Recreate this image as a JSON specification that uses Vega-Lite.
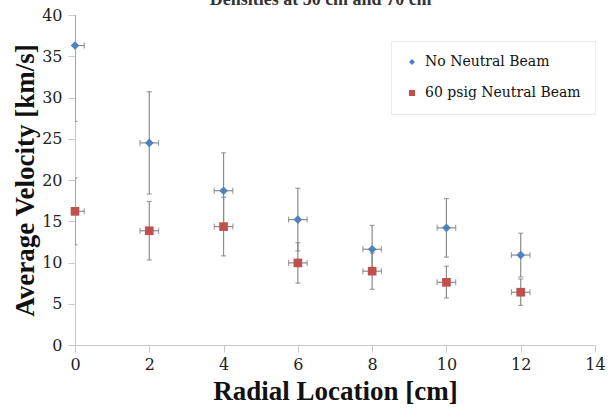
{
  "$schema": "https://vega.github.io/schema/vega-lite/v6.json",
  "width": 520,
  "height": 330,
  "autosize": "none",
  "padding": {"left": 75, "top": 15, "right": 17, "bottom": 72},
  "background": "white",
  "title": {
    "text": "Densities at 50 cm and 70 cm",
    "font": "Liberation Serif",
    "fontSize": 18,
    "fontWeight": "bold",
    "color": "#333333",
    "anchor": "start",
    "dx": 198,
    "offset": -2
  },
  "data": {
    "values": [
      {"series": "No Neutral Beam", "r": 0, "rlo": -0.25, "rhi": 0.25, "v": 36.3, "vlo": 27.1, "vhi": 45.5},
      {"series": "No Neutral Beam", "r": 2, "rlo": 1.75, "rhi": 2.25, "v": 24.5, "vlo": 18.3, "vhi": 30.7},
      {"series": "No Neutral Beam", "r": 4, "rlo": 3.75, "rhi": 4.25, "v": 18.7, "vlo": 14.1, "vhi": 23.3},
      {"series": "No Neutral Beam", "r": 6, "rlo": 5.75, "rhi": 6.25, "v": 15.2, "vlo": 11.4, "vhi": 19.0},
      {"series": "No Neutral Beam", "r": 8, "rlo": 7.75, "rhi": 8.25, "v": 11.6, "vlo": 8.7, "vhi": 14.5},
      {"series": "No Neutral Beam", "r": 10, "rlo": 9.75, "rhi": 10.25, "v": 14.2, "vlo": 10.65, "vhi": 17.75},
      {"series": "No Neutral Beam", "r": 12, "rlo": 11.75, "rhi": 12.25, "v": 10.9, "vlo": 8.25, "vhi": 13.55},
      {"series": "60 psig Neutral Beam", "r": 0, "rlo": -0.25, "rhi": 0.25, "v": 16.2, "vlo": 12.15, "vhi": 20.25},
      {"series": "60 psig Neutral Beam", "r": 2, "rlo": 1.75, "rhi": 2.25, "v": 13.85, "vlo": 10.3, "vhi": 17.4},
      {"series": "60 psig Neutral Beam", "r": 4, "rlo": 3.75, "rhi": 4.25, "v": 14.35, "vlo": 10.8, "vhi": 17.9},
      {"series": "60 psig Neutral Beam", "r": 6, "rlo": 5.75, "rhi": 6.25, "v": 9.95, "vlo": 7.5, "vhi": 12.4},
      {"series": "60 psig Neutral Beam", "r": 8, "rlo": 7.75, "rhi": 8.25, "v": 8.95, "vlo": 6.75, "vhi": 11.15},
      {"series": "60 psig Neutral Beam", "r": 10, "rlo": 9.75, "rhi": 10.25, "v": 7.6, "vlo": 5.7, "vhi": 9.55},
      {"series": "60 psig Neutral Beam", "r": 12, "rlo": 11.75, "rhi": 12.25, "v": 6.4, "vlo": 4.8, "vhi": 8.0}
    ]
  },
  "encoding": {
    "x": {
      "field": "r",
      "type": "quantitative",
      "scale": {"domain": [0, 14], "nice": false, "zero": false},
      "axis": {
        "title": "Radial Location [cm]",
        "values": [0, 2, 4, 6, 8, 10, 12, 14],
        "labelFlush": false,
        "grid": false,
        "domainColor": "#c8c8c8",
        "tickColor": "#c8c8c8",
        "tickSize": 7,
        "labelPadding": 4,
        "labelFont": "DejaVu Serif",
        "labelFontSize": 16,
        "labelColor": "#222222",
        "titleFont": "Liberation Serif",
        "titleFontSize": 27,
        "titleFontWeight": "bold",
        "titleColor": "#111111",
        "titlePadding": 6
      }
    }
  },
  "layer": [
    {
      "mark": {"type": "rule", "color": "#8c8c8c", "strokeWidth": 1.2, "clip": true},
      "encoding": {
        "y": {
          "field": "vlo",
          "type": "quantitative",
          "scale": {"domain": [0, 40], "nice": false},
          "axis": {
            "title": "Average Velocity [km/s]",
            "values": [0, 5, 10, 15, 20, 25, 30, 35, 40],
            "grid": false,
            "domainColor": "#c8c8c8",
            "tickColor": "#c8c8c8",
            "tickSize": 7,
            "labelPadding": 6,
            "labelFont": "DejaVu Serif",
            "labelFontSize": 16,
            "labelColor": "#222222",
            "titleFont": "Liberation Serif",
            "titleFontSize": 27,
            "titleFontWeight": "bold",
            "titleColor": "#111111",
            "titlePadding": 2
          }
        },
        "y2": {"field": "vhi"}
      }
    },
    {
      "mark": {"type": "tick", "orient": "horizontal", "color": "#7a7a7a", "thickness": 1.2, "size": 5, "clip": true},
      "encoding": {"y": {"field": "vlo", "type": "quantitative"}}
    },
    {
      "mark": {"type": "tick", "orient": "horizontal", "color": "#7a7a7a", "thickness": 1.2, "size": 5, "clip": true},
      "encoding": {"y": {"field": "vhi", "type": "quantitative"}}
    },
    {
      "mark": {"type": "rule", "color": "#8c8c8c", "strokeWidth": 1.2, "clip": true},
      "encoding": {
        "x": {"field": "rlo", "type": "quantitative"},
        "x2": {"field": "rhi"},
        "y": {"field": "v", "type": "quantitative"}
      }
    },
    {
      "mark": {"type": "tick", "orient": "vertical", "color": "#7a7a7a", "thickness": 1.2, "size": 6, "clip": true},
      "encoding": {
        "x": {"field": "rlo", "type": "quantitative"},
        "y": {"field": "v", "type": "quantitative"}
      }
    },
    {
      "mark": {"type": "tick", "orient": "vertical", "color": "#7a7a7a", "thickness": 1.2, "size": 6, "clip": true},
      "encoding": {
        "x": {"field": "rhi", "type": "quantitative"},
        "y": {"field": "v", "type": "quantitative"}
      }
    },
    {
      "mark": {"type": "point", "filled": true, "opacity": 1, "size": 75, "clip": false},
      "encoding": {
        "y": {"field": "v", "type": "quantitative"},
        "color": {
          "field": "series",
          "type": "nominal",
          "scale": {"domain": ["No Neutral Beam", "60 psig Neutral Beam"], "range": ["#4F81BD", "#C0504D"]},
          "legend": {
            "title": null,
            "orient": "none",
            "legendX": 316,
            "legendY": 26,
            "padding": 14,
            "strokeColor": "#ebebeb",
            "fillColor": "white",
            "rowPadding": 17,
            "symbolSize": 36,
            "symbolOffset": 0,
            "labelOffset": 6,
            "labelFont": "DejaVu Serif",
            "labelFontSize": 14,
            "labelColor": "#111111",
            "labelLimit": 300
          }
        },
        "shape": {
          "field": "series",
          "type": "nominal",
          "scale": {"domain": ["No Neutral Beam", "60 psig Neutral Beam"], "range": ["diamond", "square"]},
          "legend": null
        }
      }
    }
  ],
  "config": {
    "view": {"stroke": null}
  }
}
